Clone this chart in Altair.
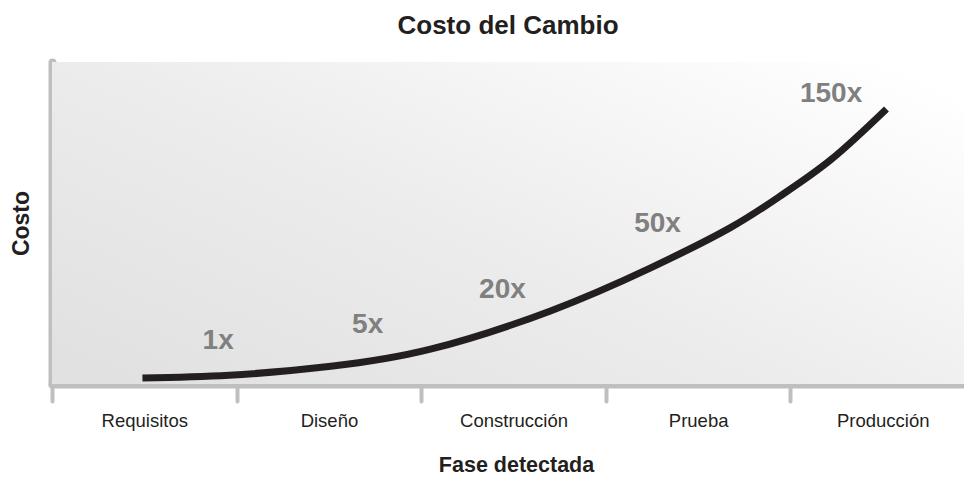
import json
import altair as alt
import pandas as pd

# ---- data ----
phases = ["Requisitos", "Diseño", "Construcción", "Prueba", "Producción"]
phase_bounds = [0, 1, 2, 3, 4]

# cost curve (x in phase units, y in relative cost index 0-100)
curve_x = [0.49, 0.96, 1.51, 2.05, 2.70, 3.24, 3.67, 3.94, 4.22, 4.52]
curve_y = [1.9, 2.7, 5.5, 10.8, 22.7, 36.0, 48.4, 58.2, 69.7, 85.4]

# multiplier labels
mult_text = ["1x", "5x", "20x", "50x", "150x"]
mult_x = [0.90, 1.71, 2.44, 3.28, 4.22]
mult_y = [10.9, 15.8, 26.7, 47.2, 87.6]

W, H = 912, 322
XMAX = 4.94

curve_df = pd.DataFrame({"fase": curve_x, "costo": curve_y})
mult_df = pd.DataFrame({"fase": mult_x, "costo": mult_y, "label": mult_text})

label_expr = json.dumps(phases) + "[datum.value]"

FONT = "Liberation Sans, Arial, sans-serif"
AXIS_GRAY = "#bfbfbf"
INK = "#231f20"

xscale = alt.Scale(domain=[0, XMAX], nice=False, zero=False)
yscale = alt.Scale(domain=[0, 100], nice=False)

bg = alt.Chart(alt.Data(values=[{}])).mark_rect(
    fill=alt.Gradient(
        gradient="linear",
        stops=[alt.GradientStop(color="#e1e1e1", offset=0),
               alt.GradientStop(color="#ececec", offset=0.45),
               alt.GradientStop(color="#ffffff", offset=1)],
        x1=0, y1=0.9, x2=1, y2=0.1,
    )
).encode(x=alt.value(0), x2=alt.value(W), y=alt.value(0), y2=alt.value(H))

line = alt.Chart(curve_df).mark_line(
    color=INK, strokeWidth=7, interpolate="natural", strokeCap="butt"
).encode(
    x=alt.X("fase:Q", scale=xscale, axis=alt.Axis(
        values=phase_bounds, labelExpr=label_expr, grid=False,
        domainColor=AXIS_GRAY, domainWidth=8, domainCap="round",
        tickColor=AXIS_GRAY, tickWidth=4, tickSize=17, tickCap="round",
        labelOffset=W / XMAX / 2, labelPadding=25, labelBaseline="alphabetic",
        labelFont=FONT, labelFontSize=18.5, labelColor=INK,
        title="Fase detectada", titleFont=FONT, titleFontSize=21.5,
        titleFontWeight="bold", titleColor=INK,
        titleX=464, titleY=87, titleBaseline="alphabetic",
        labelOverlap=False, labelFlush=False,
    )),
    y=alt.Y("costo:Q", scale=yscale, axis=alt.Axis(
        labels=False, ticks=False, grid=False,
        domainColor=AXIS_GRAY, domainWidth=8, domainCap="round",
        title="Costo", titleFont=FONT, titleFontSize=23,
        titleFontWeight="bold", titleColor=INK,
        titleX=-24, titleY=H / 2, titleBaseline="alphabetic", titleAngle=270,
    )),
)

labels = alt.Chart(mult_df).mark_text(
    font=FONT, fontSize=28, fontWeight="bold", color="#808080",
    baseline="alphabetic", align="center",
).encode(
    x=alt.X("fase:Q", scale=xscale),
    y=alt.Y("costo:Q", scale=yscale),
    text="label:N",
)

chart = alt.layer(bg, line, labels).properties(
    width=W, height=H,
    title=alt.Title("Costo del Cambio", font=FONT, fontSize=26,
                    fontWeight="bold", color=INK, anchor="middle",
                    baseline="alphabetic", offset=2),
    padding={"left": 52, "top": 62, "right": 0, "bottom": 93},
    autosize="none",
).configure_view(stroke=None).configure(background="white")

chart.save("out.html", embed_options={"renderer": "svg", "actions": False})
